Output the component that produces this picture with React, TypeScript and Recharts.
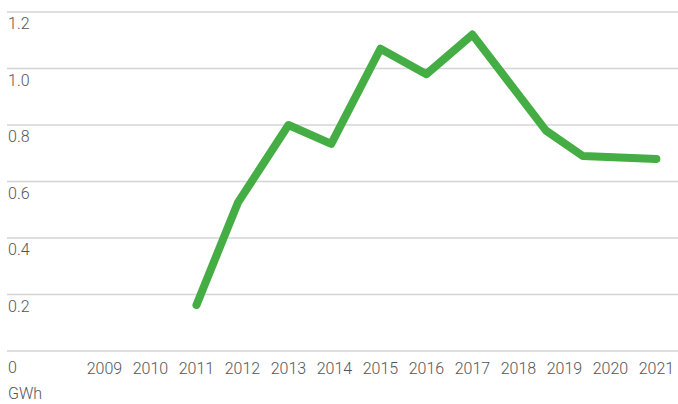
import { LineChart, Line, XAxis, YAxis, CartesianGrid, Label } from "recharts";

// x positions (the last points don't sit on the year labels)
const years = [2011, 2011.9, 2013, 2013.93, 2015, 2016, 2017, 2018.6, 2019.4, 2021];
const gwh = [0.163, 0.525, 0.8, 0.733, 1.07, 0.98, 1.12, 0.78, 0.69, 0.68];

const yearTicks = [2009, 2010, 2011, 2012, 2013, 2014, 2015, 2016, 2017, 2018, 2019, 2020, 2021];
const valueTicks = [0, 0.2, 0.4, 0.6, 0.8, 1.0, 1.2];

const data = years.map((year, i) => ({ year, value: gwh[i] }));

const textColor = "#555555";
const font = "Roboto, sans-serif";

const YTick = (props: any) => {
  const { y, payload } = props;
  const v = payload.value as number;
  const label = v === 0 ? "0" : v.toFixed(1);
  return (
    <text x={8} y={y + (v === 0 ? 22 : 17)} fill={textColor} fontSize={16} fontWeight={300} fontFamily={font} textAnchor="start">
      {label}
    </text>
  );
};

const XTick = (props: any) => {
  const { x, y, payload } = props;
  return (
    <text x={x} y={y + 23} fill={textColor} fontSize={16} fontWeight={300} fontFamily={font} textAnchor="middle">
      {payload.value}
    </text>
  );
};

export default function App() {
  return (
    <div style={{ position: "absolute", left: 0, top: 0, width: 678, height: 404, background: "#fff" }}>
      <LineChart width={678} height={404} data={data} margin={{ top: 12, right: 0, bottom: 0, left: 6 }}>
        <CartesianGrid horizontal vertical={false} stroke="#d4d4d4" strokeWidth={1.5} />
        <XAxis
          dataKey="year"
          type="number"
          domain={[2006.88, 2021.47]}
          ticks={yearTicks}
          interval={0}
          axisLine={false}
          tickLine={false}
          tickSize={0}
          tickMargin={0}
          height={53}
          tick={<XTick />}
        >
          <Label
            content={() => (
              <text x={8} y={399} fill={textColor} fontSize={16} fontWeight={300} fontFamily={font}>
                GWh
              </text>
            )}
          />
        </XAxis>
        <YAxis
          width={1}
          domain={[0, 1.2]}
          ticks={valueTicks}
          interval={0}
          axisLine={false}
          tickLine={false}
          tickSize={0}
          tickMargin={0}
          tick={<YTick />}
        />
        <Line
          type="linear"
          dataKey="value"
          stroke="#44ad44"
          strokeWidth={8}
          strokeLinecap="round"
          strokeLinejoin="round"
          dot={false}
          activeDot={false}
          isAnimationActive={false}
        />
      </LineChart>
    </div>
  );
}
